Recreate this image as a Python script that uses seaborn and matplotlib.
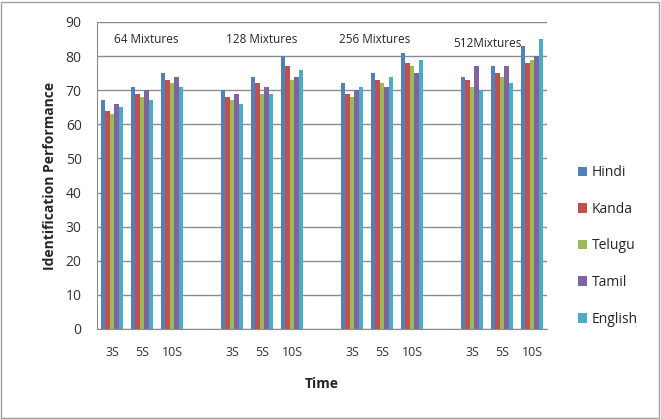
import pandas as pd
import seaborn as sns
import matplotlib.pyplot as plt
from matplotlib.patches import Rectangle

mixtures = ['64 Mixtures', '128 Mixtures', '256 Mixtures', '512Mixtures']
times = ['3S', '5S', '10S']
languages = ['Hindi', 'Kanda', 'Telugu', 'Tamil', 'English']

# one value per (mixture, time), in order 64-3S, 64-5S, 64-10S, 128-3S, ...
hindi = [67, 71, 75, 70, 74, 80, 72, 75, 81, 74, 77, 83]
kanda = [64, 69, 73, 68, 72, 77, 69, 73, 78, 73, 75, 78]
telugu = [63, 68, 72, 67, 69, 73, 68, 72, 77, 71, 74, 79]
tamil = [66, 70, 74, 69, 71, 74, 70, 71, 75, 77, 77, 80]
english = [65, 67, 71, 66, 69, 76, 71, 74, 79, 70, 72, 85]
series = [hindi, kanda, telugu, tamil, english]

colors = ['#4F81BD', '#C0504D', '#9BBB59', '#8064A2', '#4BACC6']

rows = []
for lang, vals in zip(languages, series):
    k = 0
    for m in mixtures:
        for t in times:
            rows.append({'cat': m + '|' + t, 'lang': lang, 'value': vals[k]})
            k += 1
df = pd.DataFrame(rows)

# blank slot between the mixture groups
order = []
labels = []
for i, m in enumerate(mixtures):
    for t in times:
        order.append(m + '|' + t)
        labels.append(t)
    if i < len(mixtures) - 1:
        order.append('gap%d' % i)
        labels.append('')

sns.set_style("white")
plt.rcParams['font.family'] = ['Open Sans', 'DejaVu Sans']

fig = plt.figure(figsize=(6.61, 4.19), dpi=100)
ax = fig.add_axes([0.1467, 0.2148, 0.8275 - 0.1467, 0.9475 - 0.2148])

sns.barplot(data=df, x='cat', y='value', hue='lang', order=order,
            hue_order=languages, palette=colors, width=0.76,
            saturation=1, linewidth=0, ax=ax, legend=True)

ax.set_ylim(0, 90)
ax.set_xlim(-0.5, len(order) - 0.5)
ax.set_yticks(range(0, 91, 10))
ax.yaxis.grid(True, color='#8c8c8c', linewidth=1)
ax.set_axisbelow(True)
ax.set_xticks(range(len(order)))
ax.set_xticklabels(labels, fontsize=9, color='#333333')
ax.set_xticks([i - 0.5 for i in range(len(order) + 1)], minor=True)
ax.tick_params(axis='x', which='major', length=0, pad=12)
ax.tick_params(axis='x', which='minor', length=5, color='#8c8c8c', direction='out')
ax.tick_params(axis='y', length=5, color='#8c8c8c', direction='out',
               labelsize=10, labelcolor='#333333', pad=6)

for s in ['top', 'right']:
    ax.spines[s].set_visible(False)
for s in ['left', 'bottom']:
    ax.spines[s].set_color('#8c8c8c')

ax.set_xlabel('Time', fontsize=10, fontweight='bold', labelpad=13)
ax.set_ylabel('Identification Performance', fontsize=10, fontweight='bold', labelpad=6)

ax.text(1.15, 85, mixtures[0], ha='center', va='center', fontsize=8.5)
ax.text(5.0, 85, mixtures[1], ha='center', va='center', fontsize=8.5)
ax.text(8.75, 85, mixtures[2], ha='center', va='center', fontsize=8.5)
ax.text(12.5, 83.7, mixtures[3], ha='center', va='center', fontsize=8.5)

handles, leg_labels = ax.get_legend_handles_labels()
ax.legend_.remove()
fig.legend(handles, leg_labels, loc='upper left', bbox_to_anchor=(0.855, 0.635),
           frameon=False, fontsize=10, handlelength=0.7, handleheight=0.7,
           handletextpad=0.3, labelspacing=1.55)

fig.patches.append(Rectangle((0.002, 0.003), 0.995, 0.993, transform=fig.transFigure,
                             fill=False, edgecolor='#a0a0a0', linewidth=1))

fig.savefig('out.png', dpi=100)
